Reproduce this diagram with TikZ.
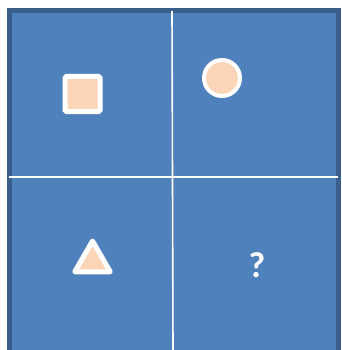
\documentclass[tikz,border=0pt]{standalone}
\usepackage{fontspec}
\setsansfont{Carlito}
\usepackage{xcolor}
\usepackage{tikz}
\usetikzlibrary{shapes.geometric}

\definecolor{panelblue}{HTML}{4F81BD}
\definecolor{paneledge}{HTML}{3A5F8C}
\definecolor{peach}{HTML}{FBD5B5}

\begin{document}
\begin{tikzpicture}[
    x=1pt, y=-1pt,
    %% ── Symbol styles ─────────────────────────────────────────
    panel/.style={
        fill=panelblue, draw=paneledge, line width=5pt
    },
    divider/.style={draw=white, line width=1.6pt},
    shapebox/.style={
        rectangle, rounded corners=1.5pt,
        minimum size=35pt, inner sep=0pt,
        draw=white, fill=peach, line width=5pt
    },
    shapering/.style={
        circle,
        minimum size=36pt, inner sep=0pt,
        draw=white, fill=peach, line width=4pt
    },
    shapetri/.style={
        regular polygon, regular polygon sides=3,
        minimum size=41pt, inner sep=0pt,
        draw=white, fill=peach, line width=5pt, line join=round
    },
    puzzle/.style={
        text=white, font=\sffamily\bfseries\fontsize{36}{36}\selectfont
    }
]
\useasboundingbox (0,0) rectangle (341,350);
\clip (0,0) rectangle (341,350);

%% ── Board and dividers ─────────────────────────────────────────
\draw [panel] (9.5,10.5) rectangle (338,353);
\coordinate (vtop) at (172,11);
\coordinate (vbot) at (173,350);
\coordinate (hleft) at (9,177);
\coordinate (hright) at (338,177);
\draw [divider] (vtop) -- (vbot);
\draw [divider] (hleft) -- (hright);

%% ── Cells ──────────────────────────────────────────────────────
\node (sq)    [shapebox]  at (82.5,94)   {};
\node (ring)  [shapering] at (222,78)    {};
\node (tri)   [shapetri]  at (92.5,261.5) {};
\node (quest) [puzzle]    at (257,265)   {?};

\end{tikzpicture}
\end{document}
